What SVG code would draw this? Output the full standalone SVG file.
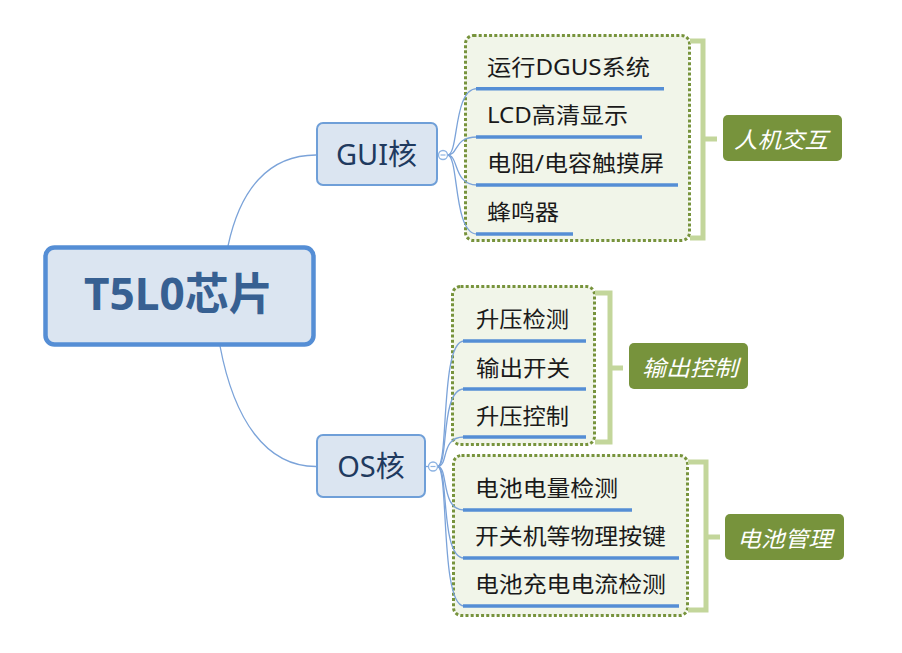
<svg xmlns="http://www.w3.org/2000/svg" width="902" height="653" viewBox="0 0 902 653">
<defs>
<style>
.bg{fill:#ffffff}
.root{fill:#dbe5f1;stroke:#558ed5;stroke-width:4.5}
.root-t{font-family:"Noto Sans","Noto Sans CJK SC",sans-serif;font-weight:bold;font-size:44px;fill:#376092}
.main{fill:#dbe5f1;stroke:#6f9fd8;stroke-width:2}
.main-t{font-family:"Noto Sans","Noto Sans CJK SC",sans-serif;font-size:29px;fill:#1f3a5f}
.conn{fill:none;stroke:#7ba3d9;stroke-width:1.3}
.tog{fill:#ffffff;stroke:#8eb4e3;stroke-width:1.3}
.grp{fill:#f1f5e9;stroke:#77933c;stroke-width:3;stroke-dasharray:3 2.2}
.ul{stroke:#558ed5;stroke-width:3.5;fill:none}
.leaf-t{font-family:"Noto Sans","Noto Sans CJK SC",sans-serif;font-size:22px;fill:#1a1a1a}
.brk{fill:none;stroke:#c3d69b;stroke-width:5}
.lbl{fill:#77933c}
.lbl-t{font-family:"Noto Sans CJK SC",sans-serif;font-size:22px;font-style:italic;fill:#ffffff}
</style>
</defs>
<rect class="bg" x="0" y="0" width="902" height="653"/>

<!-- group boundaries -->
<g id="boundaries">
<rect class="grp" x="465.5" y="35.5" width="224" height="205" rx="8"/>
<rect class="grp" x="452.5" y="286.5" width="142" height="158" rx="8"/>
<rect class="grp" x="453.5" y="455.5" width="234" height="160" rx="8"/>
</g>

<!-- connectors -->
<g id="connectors">
<path class="conn" d="M228,246 C240,190 268,155 316,155"/>
<path class="conn" d="M220,346 C234,420 266,466.5 316,466.5"/>
<path class="conn" d="M437,155 H439"/>
<path class="conn" d="M425,466.5 H428.5"/>
<path class="conn" d="M447.5,155 C459,155 453,88.7 477,88.7"/>
<path class="conn" d="M447.5,155 C459,155 453,137 477,137"/>
<path class="conn" d="M447.5,155 C459,155 453,185 477,185"/>
<path class="conn" d="M447.5,155 C459,155 453,234 477,234"/>
<path class="conn" d="M437.5,466.5 C449,466.5 440,341 464,341"/>
<path class="conn" d="M437.5,466.5 C449,466.5 440,389 464,389"/>
<path class="conn" d="M437.5,466.5 C449,466.5 440,437 464,437"/>
<path class="conn" d="M437.5,466.5 C449,466.5 440,510 464,510"/>
<path class="conn" d="M437.5,466.5 C449,466.5 440,558 464,558"/>
<path class="conn" d="M437.5,466.5 C449,466.5 440,606 464,606"/>
</g>

<!-- root -->
<g id="root">
<rect class="root" x="45.5" y="247.5" width="268" height="97" rx="9"/>
<text class="root-t" x="84" y="310" textLength="189" lengthAdjust="spacingAndGlyphs">T5L0芯片</text>
</g>

<!-- GUI core -->
<g id="gui">
<rect class="main" x="317" y="123" width="120" height="62" rx="6"/>
<text class="main-t" x="376.5" y="165" text-anchor="middle">GUI核</text>
<circle class="tog" cx="443" cy="155" r="4.5"/>
<path d="M440.5,155 H445.5" stroke="#8eb4e3" stroke-width="1.2"/>
</g>

<!-- OS core -->
<g id="os">
<rect class="main" x="317" y="435" width="108" height="62" rx="6"/>
<text class="main-t" x="371" y="477" text-anchor="middle">OS核</text>
<circle class="tog" cx="433" cy="466.5" r="4.5"/>
<path d="M430.5,466.5 H435.5" stroke="#8eb4e3" stroke-width="1.2"/>
</g>

<!-- GUI leaves -->
<g id="gui-1"><line class="ul" x1="476" y1="88.7" x2="664" y2="88.7"/><text class="leaf-t" x="487" y="75" textLength="163" lengthAdjust="spacingAndGlyphs">运行DGUS系统</text></g>
<g id="gui-2"><line class="ul" x1="476" y1="137" x2="642" y2="137"/><text class="leaf-t" x="487" y="123" textLength="141" lengthAdjust="spacingAndGlyphs">LCD高清显示</text></g>
<g id="gui-3"><line class="ul" x1="476" y1="185" x2="678" y2="185"/><text class="leaf-t" x="487" y="171" textLength="177" lengthAdjust="spacingAndGlyphs">电阻/电容触摸屏</text></g>
<g id="gui-4"><line class="ul" x1="476" y1="234" x2="573" y2="234"/><text class="leaf-t" x="487" y="220" textLength="72" lengthAdjust="spacingAndGlyphs">蜂鸣器</text></g>

<!-- OS leaves -->
<g id="os-1"><line class="ul" x1="463" y1="341" x2="586" y2="341"/><text class="leaf-t" x="476" y="327" textLength="93" lengthAdjust="spacingAndGlyphs">升压检测</text></g>
<g id="os-2"><line class="ul" x1="463" y1="389" x2="586" y2="389"/><text class="leaf-t" x="476" y="376" textLength="94" lengthAdjust="spacingAndGlyphs">输出开关</text></g>
<g id="os-3"><line class="ul" x1="463" y1="437" x2="586" y2="437"/><text class="leaf-t" x="476" y="424" textLength="93" lengthAdjust="spacingAndGlyphs">升压控制</text></g>
<g id="os-4"><line class="ul" x1="463" y1="510" x2="632" y2="510"/><text class="leaf-t" x="475" y="496" textLength="143" lengthAdjust="spacingAndGlyphs">电池电量检测</text></g>
<g id="os-5"><line class="ul" x1="463" y1="558" x2="679" y2="558"/><text class="leaf-t" x="475" y="544" textLength="191" lengthAdjust="spacingAndGlyphs">开关机等物理按键</text></g>
<g id="os-6"><line class="ul" x1="463" y1="606" x2="679" y2="606"/><text class="leaf-t" x="475" y="592" textLength="191" lengthAdjust="spacingAndGlyphs">电池充电电流检测</text></g>

<!-- summaries -->
<g id="sum-hmi">
<path class="brk" d="M690,41 H703 V238 H690 M703,139 H717"/>
<rect class="lbl" x="723" y="115" width="119" height="46" rx="5"/>
<text class="lbl-t" x="734" y="148" textLength="94" lengthAdjust="spacingAndGlyphs">人机交互</text>
</g>
<g id="sum-out">
<path class="brk" d="M595,293 H610 V442 H595 M610,368 H623"/>
<rect class="lbl" x="629" y="343" width="119" height="46" rx="5"/>
<text class="lbl-t" x="642" y="376" textLength="96" lengthAdjust="spacingAndGlyphs">输出控制</text>
</g>
<g id="sum-bat">
<path class="brk" d="M688,462 H706 V610 H688 M706,537 H720"/>
<rect class="lbl" x="725" y="514" width="119" height="46" rx="5"/>
<text class="lbl-t" x="737" y="547" textLength="95" lengthAdjust="spacingAndGlyphs">电池管理</text>
</g>
</svg>
